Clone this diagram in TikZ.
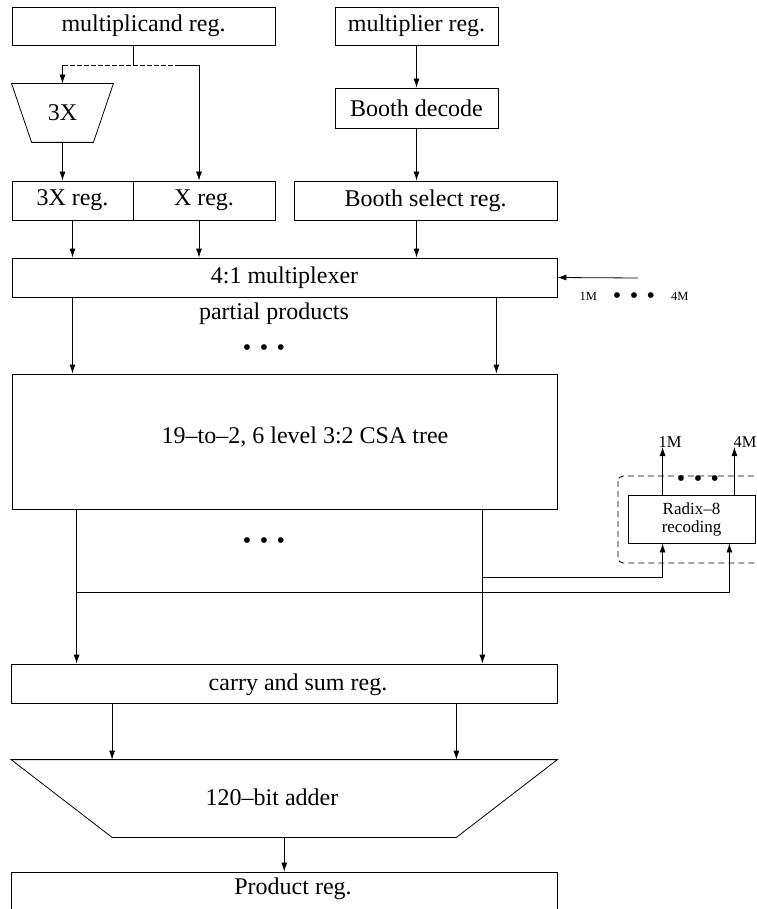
\documentclass[tikz,border=0pt]{standalone}
\usepackage{fontspec}
\setmainfont{Liberation Serif}
\usetikzlibrary{arrows.meta}
\newcommand\tripledot{\textbullet\hspace{8.5pt}\textbullet\hspace{8.5pt}\textbullet}
\tikzset{
  blk/.style={draw,inner sep=0pt,minimum height=39pt},
  lbl/.style={inner sep=0pt},
  dotrow/.style={inner sep=0pt},
  small/.style={inner sep=0pt,font=\fontsize{12.5}{14}\selectfont},
  mid/.style={inner sep=0pt,font=\fontsize{16.5}{18}\selectfont},
  rdxbox/.style={draw,inner sep=0pt,align=center,font=\fontsize{17}{18}\selectfont},
  grpbox/.style={dash pattern=on 6pt off 4pt,rounded corners=5pt},
}
\begin{document}
\begin{tikzpicture}[x=1pt,y=-1pt,>={Latex[length=9pt,width=6pt]},line width=0.8pt,
  font=\fontsize{24}{28}\selectfont]
\useasboundingbox (0,0) rectangle (756,909);

% operand registers
\node[blk,minimum width=263pt,minimum height=38pt] (mcand) at (143.5,26) {multiplicand reg.};
\node[blk,minimum width=163pt,minimum height=38pt] (mplier) at (416.5,26) {multiplier reg.};
\node[blk,minimum width=163pt,minimum height=40pt] (bdec) at (416.5,108) {Booth decode};

% 3X adder
\node[lbl,minimum width=101pt,minimum height=58pt] (x3) at (62.5,113) {3X};
\draw (x3.north west) -- (x3.north east) -- ([xshift=-20pt]x3.south east)
  -- ([xshift=20pt]x3.south west) -- cycle;

\node[blk,minimum width=121pt] (reg3x) at (72.5,200.5) {3X reg.};
\node[blk,minimum width=142pt] (regx) at (204,200.5) {X reg.};
\node[blk,minimum width=263pt] (bsel) at (425.5,200.5) {Booth select reg.};

\coordinate (split) at (133,65);
\coordinate (dend) at (180,65);
\coordinate (xtap) at (199,65);
\draw (mcand.south -| split) -- (split);
\draw[dash pattern=on 5pt off 2pt] (split -| x3.north) -- (dend);
\draw[->] (dend) -- (xtap) -- (xtap |- regx.north);
\draw[->] (split -| x3.north) -- (x3.north);
\draw[->] (x3.south) -- (x3.south |- reg3x.north);
\draw[->] (mplier) -- (bdec);
\draw[->] (bdec) -- (bdec |- bsel.north);

% multiplexer
\node[blk,minimum width=545pt] (mux) at (284.5,277.5) {4:1 multiplexer};
\draw[->] (reg3x) -- (reg3x |- mux.north);
\draw[->] (xtap |- regx.south) -- (xtap |- mux.north);
\draw[->] (bdec |- bsel.south) -- (bdec |- mux.north);
\coordinate (msel) at (638,278);
\draw[->] (msel) -- (mux.east);
\node[small] (mlist) at (634,298) {1M\hspace{16pt}\raisebox{-2.5pt}{\fontsize{24}{28}\selectfont\tripledot}\hspace{16pt}4M};

% CSA tree
\node[lbl] (pp) at (274,314) {partial products};
\node[dotrow] (ppdots) at (264,350) {\tripledot};
\node[blk,minimum width=545pt,minimum height=135pt] (csa) at (284.5,441.5) {};
\node[lbl] (csal) at (305,437) {19--to--2, 6 level 3:2 CSA tree};
\draw[->] (reg3x |- mux.south) -- (reg3x |- csa.north);
\draw[->] ([xshift=-61pt]mux.south east) -- ([xshift=-61pt]csa.north east);

% carry and sum
\node[blk,minimum width=545.5pt] (cs) at (284.25,683.5) {};
\node[lbl] (csl) at (298,685) {carry and sum reg.};
\node[dotrow] (csadots) at (264,543) {\tripledot};
\coordinate (cL) at ([xshift=65pt]csa.south west);
\coordinate (cR) at ([xshift=-75pt]csa.south east);
\draw[->] (cL) -- (cL |- cs.north);
\draw[->] (cR) -- (cR |- cs.north);

% recoder
\node[rdxbox,minimum width=127pt,minimum height=48pt] (rdx) at (691.5,519) {Radix--8\\recoding};
\draw[grpbox] (618,476) rectangle (780,563);
\node[dotrow] (rdots) at (698,481) {\tripledot};
\coordinate (bus1) at (482,577);
\coordinate (bus4) at (77,592);
\coordinate (rin1) at ([xshift=35pt]rdx.south west);
\coordinate (rin4) at ([xshift=-26pt]rdx.south east);
\draw[->] (bus1) -- (rin1 |- bus1) -- (rin1);
\draw[->] (bus4) -- (rin4 |- bus4) -- (rin4);
\node[mid,anchor=base] (m1) at (670,447) {1M};
\node[mid,anchor=base] (m4) at (745,447) {4M};
\coordinate (rout1) at ([xshift=35pt]rdx.north west);
\coordinate (rout4) at ([xshift=-21pt]rdx.north east);
\draw[->] (rout1) -- (rout1 |- m1.base);
\draw[->] (rout4) -- (rout4 |- m4.base);

% final adder
\node[lbl,minimum width=545.5pt,minimum height=77pt] (add) at (284.25,798.5) {};
\draw (add.north west) -- (add.north east) -- ([xshift=-101pt]add.south east)
  -- ([xshift=101pt]add.south west) -- cycle;
\node[lbl] (addl) at (272,797) {120--bit adder};
\draw[->] ([xshift=101pt]cs.south west) -- ([xshift=101pt]add.north west);
\draw[->] ([xshift=-101pt]cs.south east) -- ([xshift=-101pt]add.north east);

\node[blk,minimum width=545.5pt,minimum height=38pt] (prod) at (284.25,891) {};
\node[lbl] (prodl) at (293,889) {Product reg.};
\draw[->] (add.south) -- (prod.north);
\end{tikzpicture}
\end{document}
